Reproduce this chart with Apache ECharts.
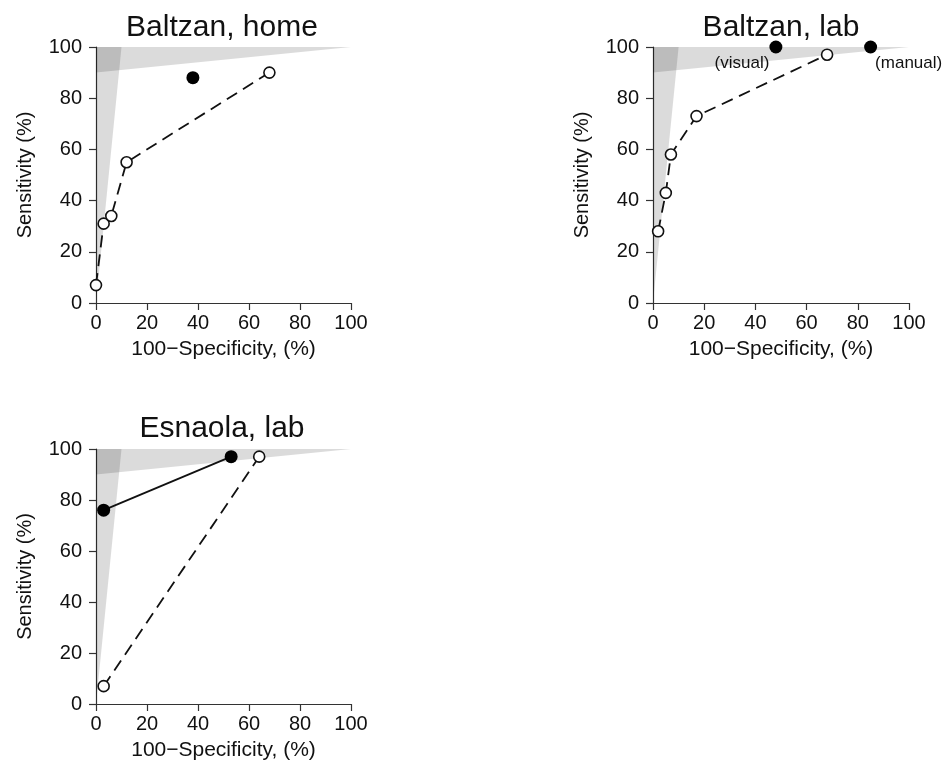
<!DOCTYPE html>
<html>
<head>
<meta charset="utf-8">
<script src="https://cdn.jsdelivr.net/npm/echarts@6/dist/echarts.min.js"></script>
<style>
html,body{margin:0;padding:0;background:#fff;}
#chart{width:944px;height:764px;}
</style>
</head>
<body>
<div id="chart"></div>
<script>
// ---- data ----
const axisTicks = [0, 20, 40, 60, 80, 100];
const panelTitles = ['Baltzan, home', 'Baltzan, lab', 'Esnaola, lab'];
const xAxisName = '100\u2212Specificity, (%)';
const yAxisName = 'Sensitivity (%)';

const homeOpen = [[0, 7], [3, 31], [6, 34], [12, 55], [68, 90]];
const homeSolid = [[38, 88]];

const labOpen = [[2, 28], [5, 43], [7, 58], [17, 73], [68, 97]];
const labSolid = [[48, 100], [85, 100]];
const labSolidLabels = ['(visual)', '(manual)'];

const esnOpen = [[3, 7], [64, 97]];
const esnSolid = [[3, 76], [53, 97]];

const wedgeVertical = [[0, 0], [0, 100], [10, 100]];
const wedgeHorizontal = [[0, 90], [0, 100], [100, 100]];

// ---- layout ----
const FONT = '"Liberation Sans", Arial, Helvetica, sans-serif';
const grids = [
  {left: 96, top: 47, width: 255, height: 256},
  {left: 653, top: 47, width: 256, height: 256},
  {left: 96, top: 449, width: 255, height: 255}
];
const titlePos = [
  {left: 222, top: 13},
  {left: 781, top: 13},
  {left: 222, top: 414}
];

const tickMin = axisTicks[0];
const tickMax = axisTicks[axisTicks.length - 1];
const tickStep = axisTicks[1] - axisTicks[0];

function makeX(i) {
  return {
    type: 'value', gridIndex: i, min: tickMin, max: tickMax, interval: tickStep,
    name: xAxisName, nameLocation: 'middle', nameGap: 36,
    nameTextStyle: {fontSize: 21, color: '#111', fontFamily: FONT},
    axisLine: {show: true, onZero: false, lineStyle: {color: '#333', width: 1.2}},
    axisTick: {show: true, length: 7, inside: false, lineStyle: {color: '#333', width: 1.2}},
    axisLabel: {fontSize: 20, color: '#111', margin: 10, fontFamily: FONT},
    splitLine: {show: false}
  };
}
function makeY(i) {
  return {
    type: 'value', gridIndex: i, min: tickMin, max: tickMax, interval: tickStep,
    name: yAxisName, nameLocation: 'middle', nameGap: 61,
    nameTextStyle: {fontSize: 20, color: '#111', fontFamily: FONT},
    axisLine: {show: true, onZero: false, lineStyle: {color: '#333', width: 1.2}},
    axisTick: {show: true, length: 7, inside: false, lineStyle: {color: '#333', width: 1.2}},
    axisLabel: {fontSize: 20, color: '#111', margin: 14, fontFamily: FONT},
    splitLine: {show: false}
  };
}

function wedge(i, poly) {
  return {
    type: 'custom', xAxisIndex: i, yAxisIndex: i, silent: true, z: 1,
    data: [[0, 0]],
    renderItem: function (params, api) {
      const pts = poly.map(p => api.coord(p));
      return {type: 'polygon', shape: {points: pts}, style: {fill: 'rgba(0,0,0,0.14)'}};
    }
  };
}
function openLine(i, data) {
  return {
    type: 'line', xAxisIndex: i, yAxisIndex: i, data: data, z: 3,
    symbol: 'circle', symbolSize: 11, showAllSymbol: true, clip: false,
    lineStyle: {color: '#111', width: 1.8, type: [12, 7]},
    itemStyle: {color: '#fff', borderColor: '#111', borderWidth: 1.6, opacity: 1},
    emphasis: {disabled: true}, animation: false
  };
}
function solidPoints(i, data, labels) {
  const items = data.map((d, k) => {
    const it = {value: d};
    if (labels) {
      const right = k === 0;
      it.label = {
        show: true, formatter: labels[k], fontSize: 17, color: '#111', fontFamily: FONT,
        position: right ? [0, 23] : [11, 23],
        align: right ? 'right' : 'left', verticalAlign: 'middle'
      };
    }
    return it;
  });
  return {
    type: 'scatter', xAxisIndex: i, yAxisIndex: i, data: items, z: 4,
    symbol: 'circle', symbolSize: 13, clip: false,
    itemStyle: {color: '#000', opacity: 1}, emphasis: {disabled: true}, animation: false
  };
}
function solidLine(i, data) {
  return {
    type: 'line', xAxisIndex: i, yAxisIndex: i, data: data, z: 4,
    symbol: 'circle', symbolSize: 13, showAllSymbol: true, clip: false,
    lineStyle: {color: '#111', width: 1.8, type: 'solid'},
    itemStyle: {color: '#000', borderColor: '#000', borderWidth: 0, opacity: 1},
    emphasis: {disabled: true}, animation: false
  };
}

const series = [];
for (let i = 0; i < 3; i++) {
  series.push(wedge(i, wedgeVertical));
  series.push(wedge(i, wedgeHorizontal));
}
series.push(openLine(0, homeOpen));
series.push(solidPoints(0, homeSolid));
series.push(openLine(1, labOpen));
series.push(solidPoints(1, labSolid, labSolidLabels));
series.push(openLine(2, esnOpen));
series.push(solidLine(2, esnSolid));

const option = {
  backgroundColor: '#fff',
  animation: false,
  textStyle: {fontFamily: FONT},
  title: panelTitles.map((t, i) => ({
    text: t, left: titlePos[i].left, top: titlePos[i].top, textAlign: 'center', padding: 0,
    textStyle: {fontSize: 30, fontWeight: 'normal', color: '#111', fontFamily: FONT}
  })),
  grid: grids.map(g => Object.assign({containLabel: false}, g)),
  xAxis: [0, 1, 2].map(makeX),
  yAxis: [0, 1, 2].map(makeY),
  series: series
};

const chart = echarts.init(document.getElementById('chart'), null, {renderer: 'canvas'});
chart.setOption(option);
</script>
</body>
</html>
